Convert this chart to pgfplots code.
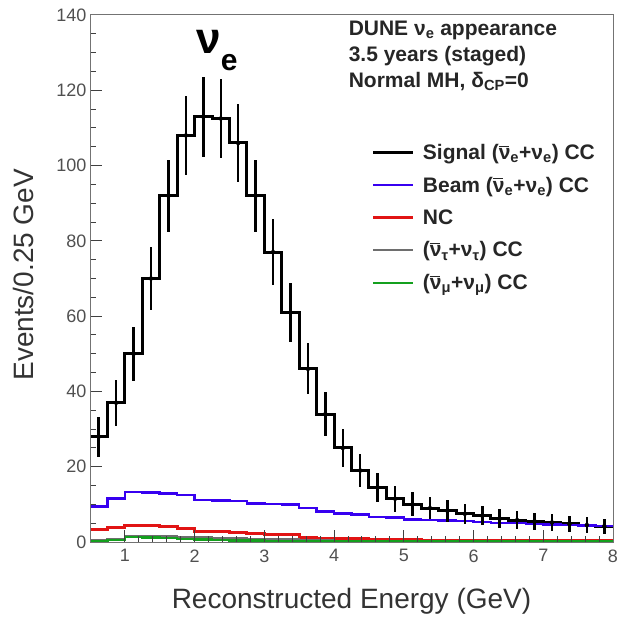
\documentclass[border=0pt]{standalone}
\usepackage{pgfplots}
\pgfplotsset{compat=1.18}
\usepackage{pgfplotstable}
\usepackage{fontspec}
\setmainfont{Liberation Sans}
\definecolor{beamblue}{RGB}{55,0,240}
\definecolor{ncred}{RGB}{225,20,20}
\definecolor{numugreen}{RGB}{20,160,30}
\definecolor{taugray}{RGB}{110,110,110}
\definecolor{txtgray}{RGB}{80,80,80}
\newcommand{\nubar}{\makebox[0pt][l]{\rule[0.6em]{0.5em}{0.06em}}ν}

\pgfplotstableread{
x y
0.50 28
0.75 37
1.00 50
1.25 70
1.50 92
1.75 108
2.00 113
2.25 112.5
2.50 106
2.75 92
3.00 77
3.25 61
3.50 46
3.75 34
4.00 25
4.25 19
4.50 14.5
4.75 11.5
5.00 10
5.25 9
5.50 8.3
5.75 7.5
6.00 7
6.25 6.2
6.50 5.8
6.75 5.5
7.00 5.2
7.25 4.8
7.50 4.5
7.75 4.2
8.00 4.2
}\signal

\pgfplotstableread{
x y e
0.625 28 5.3
0.875 37 6.1
1.125 50 7.1
1.375 70 8.4
1.625 92 9.6
1.875 108 10.4
2.125 113 10.6
2.375 112.5 10.6
2.625 106 10.3
2.875 92 9.6
3.125 77 8.8
3.375 61 7.8
3.625 46 6.8
3.875 34 5.8
4.125 25 5.0
4.375 19 4.4
4.625 14.5 3.8
4.875 11.5 3.4
5.125 10 3.2
5.375 9 3.0
5.625 8.3 2.9
5.875 7.5 2.7
6.125 7 2.6
6.375 6.2 2.5
6.625 5.8 2.4
6.875 5.5 2.3
7.125 5.2 2.3
7.375 4.8 2.2
7.625 4.5 2.1
7.875 4.2 2.0
}\signalerr

\pgfplotstableread{
x beam nc tau numu
0.50 9.4 3.3 0.5 0.3
0.75 11.6 3.9 0.8 0.5
1.00 13.3 4.4 1.5 1.3
1.25 13.1 4.3 1.6 1.2
1.50 12.9 4.1 1.5 1.0
1.75 12.5 3.7 1.4 0.8
2.00 11.2 2.8 1.2 0.6
2.25 11.0 2.7 1.1 0.5
2.50 10.9 2.6 1.0 0.4
2.75 10.2 2.2 0.9 0.4
3.00 10.1 2.1 0.8 0.3
3.25 10.0 2.0 0.7 0.3
3.50 9.0 1.1 0.5 0.2
3.75 8.1 1.0 0.4 0.2
4.00 7.6 0.8 0.3 0.1
4.25 7.3 0.8 0.3 0.1
4.50 6.7 0.7 0.2 0.1
4.75 6.5 0.6 0.2 0.1
5.00 6.0 0.6 0.2 0.1
5.25 5.9 0.5 0.2 0.1
5.50 5.7 0.5 0.2 0.1
5.75 5.6 0.4 0.1 0.1
6.00 5.3 0.4 0.1 0.1
6.25 5.1 0.4 0.1 0.1
6.50 5.0 0.3 0.1 0.1
6.75 4.8 0.3 0.1 0.1
7.00 4.7 0.3 0.1 0.1
7.25 4.5 0.3 0.1 0.1
7.50 4.4 0.3 0.1 0.1
7.75 4.3 0.3 0.1 0.1
8.00 4.3 0.3 0.1 0.1
}\bkg

\begin{document}
\begin{tikzpicture}
\useasboundingbox (0,0) rectangle (619pt,623pt);
\begin{axis}[
  at={(90pt,81pt)}, anchor=south west,
  scale only axis, width=523pt, height=527pt,
  xmin=0.5, xmax=8, ymin=0, ymax=140,
  xtick={1,2,...,8}, ytick={0,20,...,140},
  minor x tick num=4, minor y tick num=3,
  axis on top,
  tick align=inside, xtick pos=bottom, ytick pos=left,
  major tick length=12pt, minor tick length=6pt,
  tick style={black!75, line width=1pt},
  axis line style={black!55, line width=1pt},
  /pgf/number format/assume math mode=true,
  ticklabel style={font=\fontsize{18}{20}\selectfont, text=txtgray},
  xticklabel style={yshift=-4pt},
  xlabel={Reconstructed Energy (GeV)},
  ylabel={Events/0.25 GeV},
  label style={font=\fontsize{28}{30}\selectfont, text=black!80},
  xlabel style={at={(axis description cs:0.5,-0.112)}, anchor=center},
  ylabel style={at={(axis description cs:-0.128,0.507)}, anchor=center, rotate=0},
  legend style={at={(axis description cs:0.533,0.761)}, anchor=north west,
    draw=none, fill=none, font=\fontsize{21}{24}\selectfont\bfseries,
    row sep=14pt, nodes={inner sep=1pt, text=black!85},
    /tikz/every odd column/.append style={column sep=7pt}},
  legend cell align=left,
  legend image code/.code={\draw[#1] (0pt,0pt) -- (40pt,0pt);},
]
\addplot[const plot, black, line width=3pt] table[x=x, y=y] {\signal};
\addlegendentry{Signal (\nubar\textsubscript{e}+ν\textsubscript{e}) CC}
\addplot[const plot, beamblue, line width=2.5pt] table[x=x, y=beam] {\bkg};
\addlegendentry{Beam (\nubar\textsubscript{e}+ν\textsubscript{e}) CC}
\addplot[const plot, ncred, line width=3pt] table[x=x, y=nc] {\bkg};
\addlegendentry{NC}
\addplot[const plot, taugray, line width=2pt] table[x=x, y=tau] {\bkg};
\addlegendentry{(\nubar\textsubscript{τ}+ν\textsubscript{τ}) CC}
\addplot[const plot, numugreen, line width=2.5pt] table[x=x, y=numu] {\bkg};
\addlegendentry{(\nubar\textsubscript{μ}+ν\textsubscript{μ}) CC}
\addplot[forget plot, only marks, mark=none, black,
  error bars/.cd, y dir=both, y explicit, error mark=none,
  error bar style={line width=2.5pt, black}]
  table[x=x, y=y, y error=e] {\signalerr};
\node[anchor=center, font=\fontsize{44}{46}\selectfont\bfseries] at (axis cs:2.32,130.5)
  {ν\raisebox{-0.38em}{\fontsize{30}{32}\selectfont e}};
\node[anchor=north west, align=left, font=\fontsize{21}{26}\selectfont\bfseries, text=black!85]
  at (axis description cs:0.488,0.995)
  {DUNE ν\textsubscript{e} appearance\\3.5 years (staged)\\Normal MH, δ\textsubscript{CP}=0};
\end{axis}
\end{tikzpicture}
\end{document}
